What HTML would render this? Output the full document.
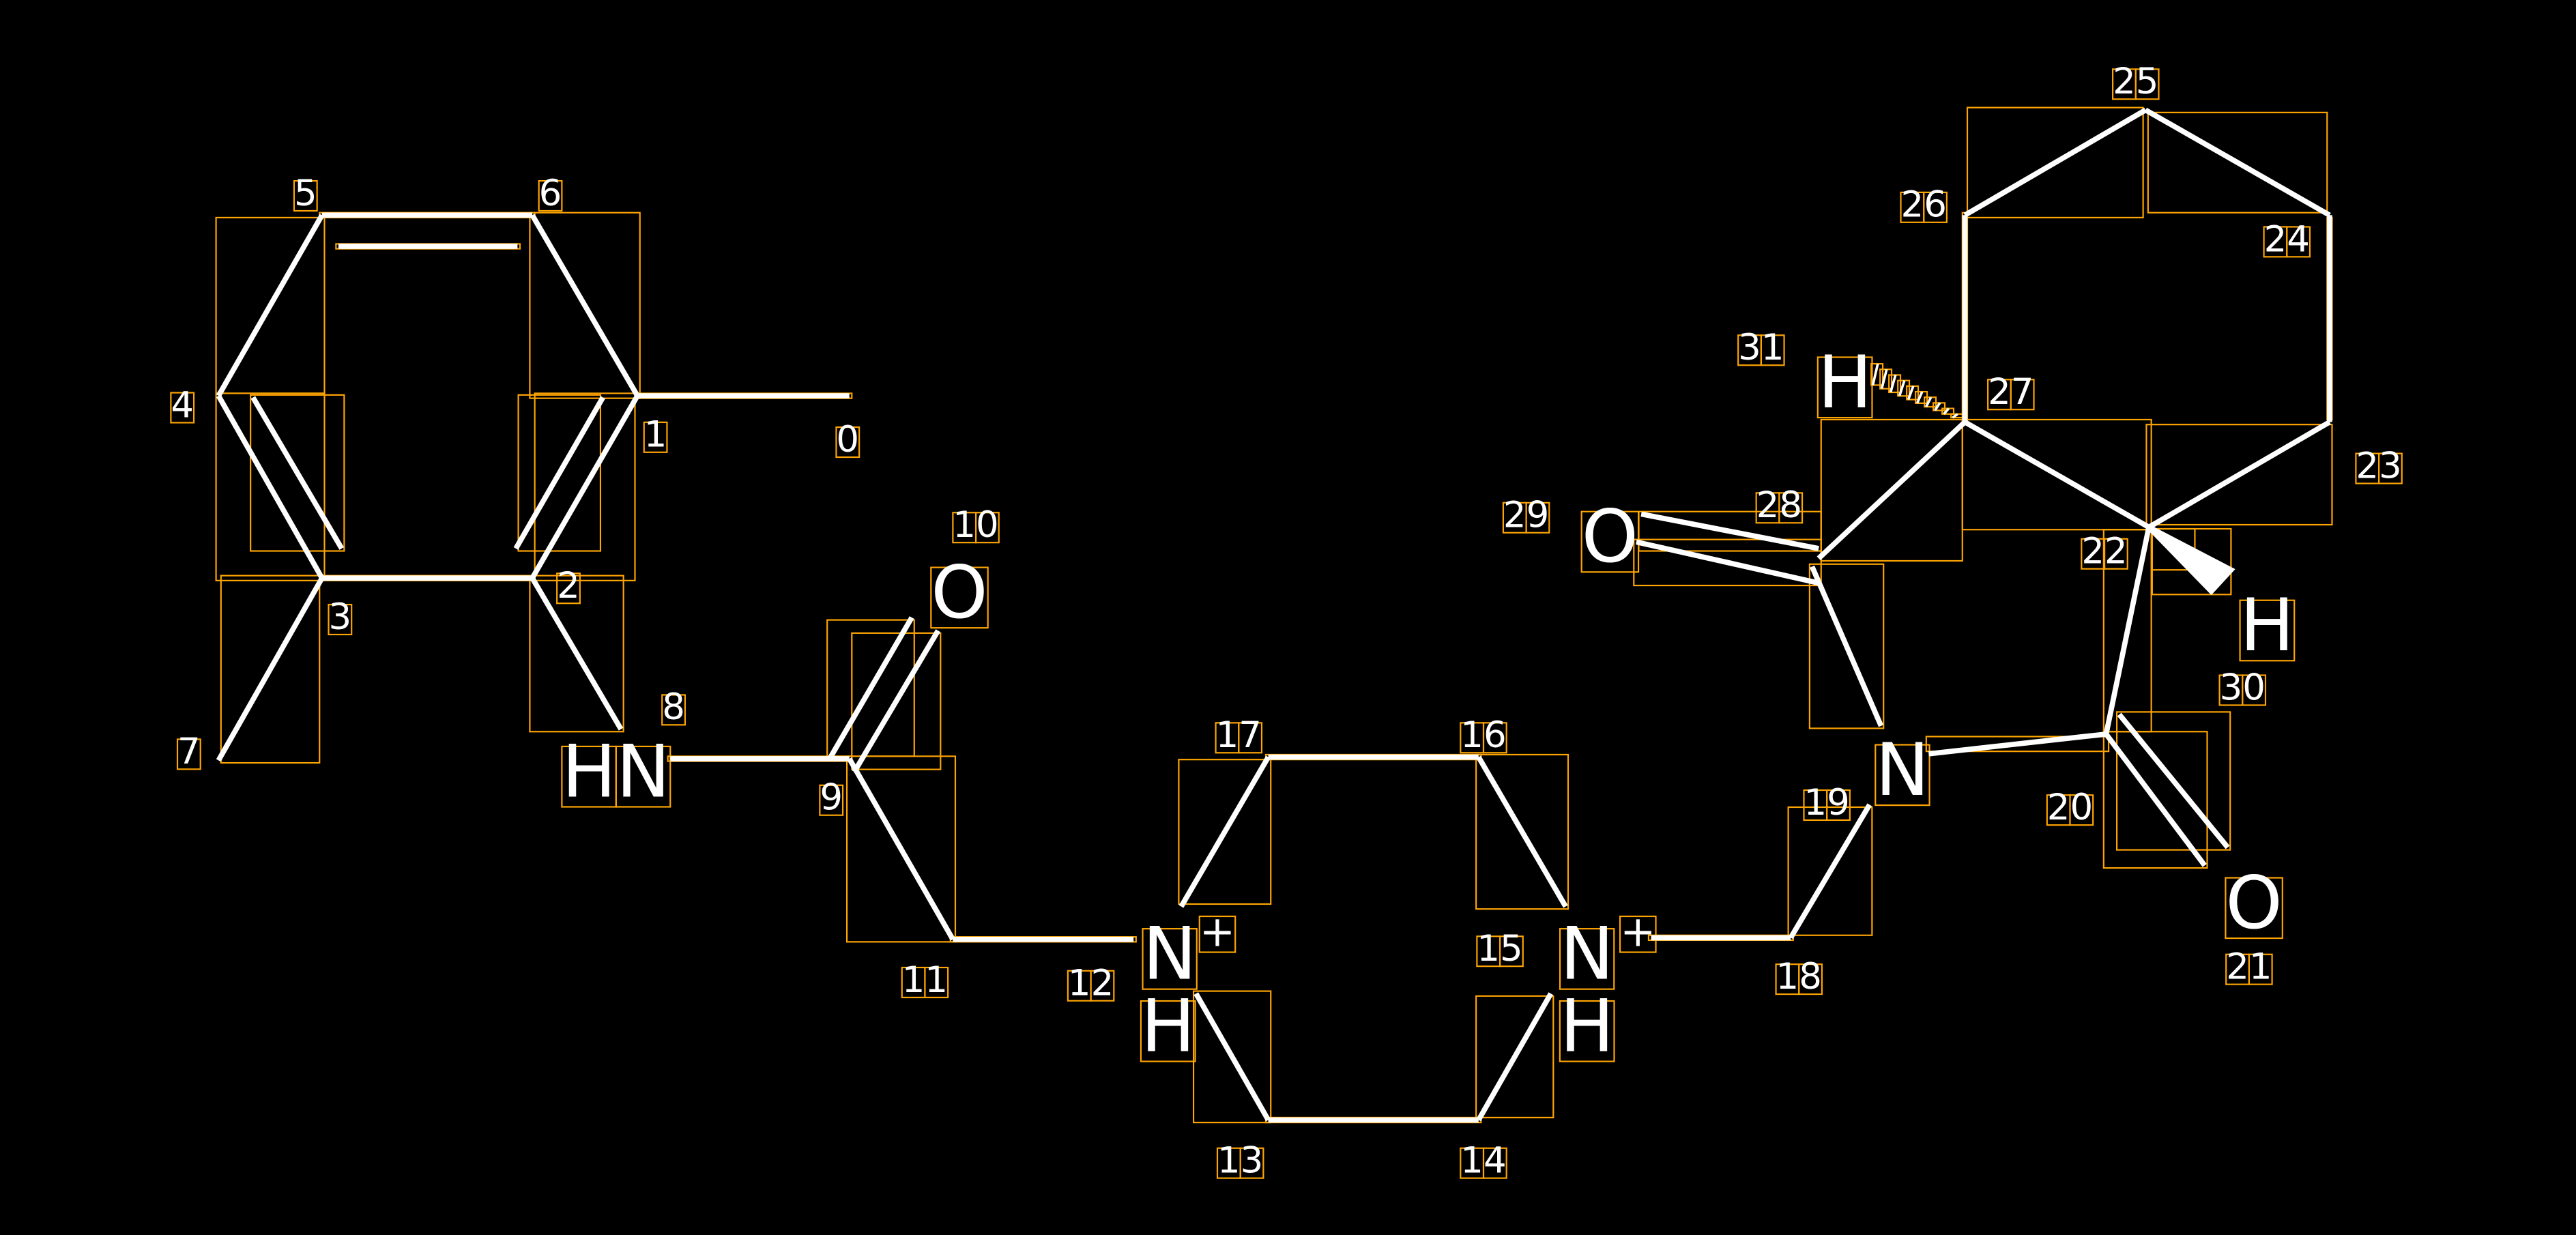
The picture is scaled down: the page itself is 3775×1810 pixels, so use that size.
<!DOCTYPE html>
<html><head><meta charset="utf-8"><style>
html,body{margin:0;padding:0;background:#000;}
svg{display:block}
text{font-family:"DejaVu Sans","Liberation Sans",sans-serif;fill:#fff;}
</style></head><body>
<svg id="s" width="3775" height="1810" viewBox="0 0 1568 752" preserveAspectRatio="none" xmlns="http://www.w3.org/2000/svg">
<rect width="1568" height="752" fill="#000"/>
<g id="bx" fill="none" stroke="#ffa500" stroke-width="0.9"></g>
<g id="ln" stroke="#fff" stroke-width="3.2" stroke-linecap="butt"></g>
<g id="tx"></g>
</svg>
<script>
const NS="http://www.w3.org/2000/svg";
const bx=document.getElementById('bx'),ln=document.getElementById('ln'),tx=document.getElementById('tx');
function box(x1,y1,x2,y2){const r=document.createElementNS(NS,'rect');r.setAttribute('x',Math.min(x1,x2));r.setAttribute('y',Math.min(y1,y2));r.setAttribute('width',Math.max(2,Math.abs(x2-x1)));r.setAttribute('height',Math.max(2,Math.abs(y2-y1)));bx.appendChild(r);}
function L(x1,y1,x2,y2){const l=document.createElementNS(NS,'line');l.setAttribute('x1',x1);l.setAttribute('y1',y1);l.setAttribute('x2',x2);l.setAttribute('y2',y2);ln.appendChild(l);box(x1-1.5,y1-1.5,x2+1.5,y2+1.5);}
function T(s,x,y,sz,per){const t=document.createElementNS(NS,'text');t.setAttribute('x',x);t.setAttribute('y',y);t.setAttribute('font-size',sz);t.setAttribute('text-anchor','middle');t.textContent=s;tx.appendChild(t);
 const b=t.getBBox();
 if(per){const cw=b.width/s.length;for(let i=0;i<s.length;i++)box(b.x+i*cw,b.y+b.height*0.2,b.x+(i+1)*cw,b.y+b.height*0.92);}
 else box(b.x,b.y+b.height*0.2,b.x+b.width,b.y+b.height*0.92);}
L(196,131,324,131);L(206,150,315,150);
L(324,131,388,241);L(388,241,517,241);
L(133,241,196,131);L(133,241,196,352);L(154,242,208,334);
L(388,241,324,352);L(367,242,314,334);
L(196,352,324,352);L(196,352,133,463);L(324,352,378,444);
L(408,462,517,462);L(505,462,555,376);L(520,470,571,384);
L(517,462,580,572);L(580,572,690,572);
L(719,552,772,461);L(772,461,900,461);L(900,461,953,552);
L(728,605,772,682);L(772,682,900,682);L(900,682,944,605);
L(1005,571,1090,571);L(1090,571,1138,490);
L(1174,459,1282,447);L(1282,447,1342,527);L(1290,435,1356,516);
L(1282,447,1308,321);
L(1308,321,1418,257);L(1418,257,1418,131);L(1418,131,1306,67);L(1306,67,1196,131);L(1196,131,1196,257);L(1196,257,1308,321);
L(1196,257,1107,340);L(999,313,1107,334);L(996,330,1107,355);L(1103,345,1145,442);
(function(){const p=document.createElementNS(NS,'polygon');p.setAttribute('points','1308,321 1358,347 1346,360');p.setAttribute('fill','#fff');ln.appendChild(p);box(1310,322,1358,362);box(1310,322,1336,347);})();
for(let i=0;i<10;i++){const f=i/10;const x=1140+f*54,y=228+f*28;const h=12*(1-f)+1;const l=document.createElementNS(NS,'line');l.setAttribute('x1',x);l.setAttribute('y1',y+h/2);l.setAttribute('x2',x+3);l.setAttribute('y2',y-h/2);l.setAttribute('stroke-width','1.5');ln.appendChild(l);box(x-1,y-h/2,x+6,y+h/2);}
T('HN',375,485,44,true);T('O',584,376,44);T('N',712,596,44);T('+',741,576,26);T('H',711,640,44);
T('N',966,596,44);T('+',997,576,26);T('H',966,640,44);T('N',1158,484,44);T('O',1372,565,44);
T('H',1380,396,44);T('O',980,342,44);T('H',1123,248,44);
const lb=[['0',516,275],['1',399,272],['2',346,364],['3',207,383],['4',111,254],['5',186,125],['6',335,125],['7',115,465],['8',410,438],['9',506,493],['10',594,327],['11',563,604],['12',664,606],['13',755,714],['14',903,714],['15',913,585],['16',903,455],['17',754,455],['18',1095,602],['19',1112,496],['20',1260,499],['21',1369,596],['22',1281,343],['23',1448,291],['24',1392,153],['25',1300,57],['26',1171,132],['27',1224,246],['28',1083,315],['29',929,321],['30',1365,426],['31',1072,219]];
lb.forEach(a=>T(a[0],a[1],a[2],22,true));
</script>
</body></html>
